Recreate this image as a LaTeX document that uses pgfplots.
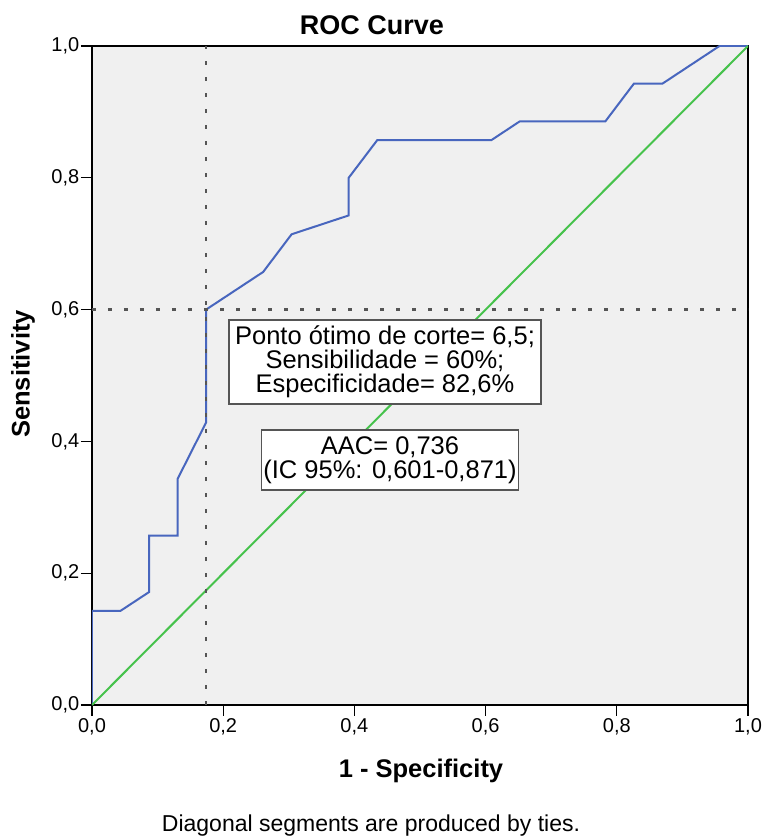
\documentclass[border=0pt]{standalone}
\usepackage{fontspec}
\setmainfont{Liberation Sans}
\usepackage{pgfplots}
\pgfplotsset{compat=1.18}

\definecolor{plotbg}{RGB}{240,240,240}
\definecolor{rocblue}{RGB}{72,102,190}
\definecolor{refgreen}{RGB}{70,194,76}
\definecolor{refgray}{RGB}{85,85,85}

\begin{document}
\begin{tikzpicture}
\useasboundingbox (-92pt,-134pt) rectangle (671pt,705pt);
\begin{axis}[
  at={(0pt,0pt)}, anchor=south west,
  scale only axis, width=656pt, height=659pt,
  xmin=0, xmax=1, ymin=0, ymax=1,
  axis background/.style={fill=plotbg},
  axis line style={line width=1.5pt},
  xtick={0,0.2,0.4,0.6,0.8,1}, ytick={0,0.2,0.4,0.6,0.8,1},
  xtick pos=bottom, ytick pos=left, tick align=outside,
  major tick length=11pt,
  tick style={black, line width=1.2pt},
  ticklabel style={font=\fontsize{20}{24}\selectfont},
  xticklabel style={inner sep=2pt},
  yticklabel style={inner sep=1.5pt},
  /pgf/number format/fixed,
  /pgf/number format/fixed zerofill,
  /pgf/number format/precision=1,
  /pgf/number format/use comma,
  /pgf/number format/assume math mode=true,
]
% ROC curve
\addplot[rocblue, line width=2pt] coordinates {
  (0,0) (0,0.1429) (0.0435,0.1429) (0.0870,0.1714) (0.0870,0.2571)
  (0.1304,0.2571) (0.1304,0.3429) (0.1739,0.4286) (0.1739,0.6)
  (0.2609,0.6571) (0.3043,0.7143) (0.3913,0.7429) (0.3913,0.8)
  (0.4348,0.8571) (0.6087,0.8571) (0.6522,0.8857) (0.7826,0.8857)
  (0.8261,0.9429) (0.8696,0.9429) (0.9565,1) (1,1)
};
% reference line
\addplot[refgreen, line width=2pt] coordinates {(0,0) (1,1)};
% optimal cut-off guides
\addplot[refgray, line width=2.6pt, dash pattern=on 4pt off 12pt] coordinates {(0.1739,0) (0.1739,1)};
\addplot[refgray, line width=2.6pt, dash pattern=on 4pt off 12pt] coordinates {(0,0.6) (1,0.6)};
% annotation boxes
\node[draw=refgray, line width=1.6pt, fill=white, align=center,
      minimum width=312pt, minimum height=84pt, inner sep=2pt,
      font=\fontsize{25.5}{24}\selectfont]
  at (axis cs:0.4466,0.5205)
  {Ponto ótimo de corte= 6,5;\\ Sensibilidade = 60\%;\\ Especificidade= 82,6\%};
\node[draw=refgray, line width=1.6pt, fill=white, align=center,
      minimum width=254pt, minimum height=60pt, inner sep=2pt,
      font=\fontsize{25.5}{24}\selectfont]
  at (axis cs:0.4543,0.3718)
  {AAC= 0,736\\ (IC 95\%: 0,601-0,871)};
\end{axis}
\node[font=\bfseries\fontsize{27}{30}\selectfont] at (280pt,680pt) {ROC Curve};
\node[font=\bfseries\fontsize{25.5}{30}\selectfont] at (329pt,-66pt) {1 - Specificity};
\node[font=\bfseries\fontsize{25.5}{30}\selectfont, rotate=90] at (-69pt,331pt) {Sensitivity};
\node[font=\fontsize{23}{26}\selectfont] at (279pt,-121pt) {Diagonal segments are produced by ties.};
\end{tikzpicture}
\end{document}
